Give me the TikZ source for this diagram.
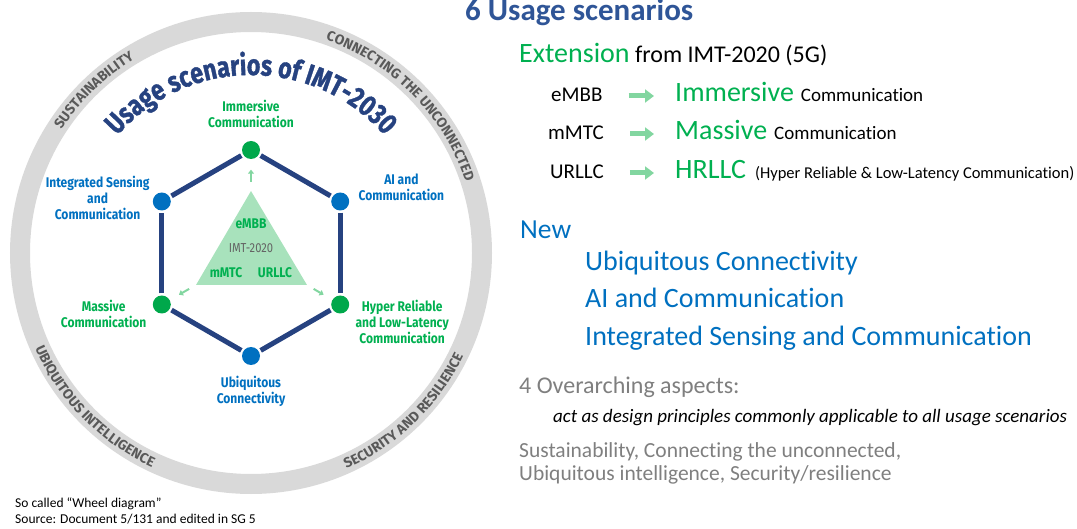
\documentclass[tikz,border=0pt]{standalone}
\usepackage{fontspec}
\setmainfont{Carlito}[Ligatures={NoCommon}]
\newfontfamily\wheelfont[FakeStretch=0.86]{Fira Sans}
\newfontfamily\arcfont[FakeStretch=0.8, FakeBold=1.2]{Fira Sans}
\newfontfamily\rimfont{Fira Sans}
\usetikzlibrary{positioning, calc, arrows.meta, decorations.text}

\definecolor{ringgray}{RGB}{217,217,217}
\definecolor{rimtext}{RGB}{89,89,89}
\definecolor{hexnavy}{RGB}{38,66,128}
\definecolor{dotgreen}{RGB}{0,168,75}
\definecolor{dotblue}{RGB}{0,112,192}
\definecolor{labgreen}{RGB}{0,176,80}
\definecolor{labblue}{RGB}{0,112,192}
\definecolor{trigreen}{RGB}{168,226,188}
\definecolor{tipgreen}{RGB}{130,214,160}
\definecolor{imtgray}{RGB}{100,100,100}
\definecolor{titleblue}{RGB}{47,85,151}
\definecolor{extgreen}{RGB}{0,176,80}
\definecolor{newblue}{RGB}{0,112,192}
\definecolor{aspgray}{RGB}{127,127,127}

\tikzset{
  ring/.style={draw=ringgray, line width=20pt},
  rimword/.style={decorate, decoration={text along path, text align=center,
      text color=rimtext, text={|\rimfont\bfseries\fontsize{14}{14}\selectfont|#1}}},
  arcword/.style={decorate, decoration={text along path, text align=center,
      text color=hexnavy, text={|\arcfont\bfseries\fontsize{29}{29}\selectfont|#1}}},
  dot/.style={circle, inner sep=0pt, minimum size=18pt},
  gdot/.style={dot, fill=dotgreen},
  bdot/.style={dot, fill=dotblue},
  hexline/.style={draw=hexnavy, line width=5pt, shorten <=2pt, shorten >=2pt},
  scen/.style={align=center, inner sep=0pt, font=\wheelfont\bfseries\fontsize{14}{16}\selectfont},
  gscen/.style={scen, text=labgreen},
  bscen/.style={scen, text=labblue},
  tritext/.style={anchor=base, inner sep=0pt, text=labgreen, font=\wheelfont\bfseries\fontsize{14}{14}\selectfont},
  tiparrow/.style={draw=tipgreen, line width=2pt, -{Triangle[length=4pt,width=6pt]}},
  fatarrow/.style={draw=tipgreen, line width=5pt, -{Triangle[length=9pt,width=13pt]}},
  rtext/.style={anchor=base west, inner sep=0pt},
}

\begin{document}
\begin{tikzpicture}[x=1pt, y=1pt]
\useasboundingbox (0,-529) rectangle (1077,0);

% the wheel
\coordinate (hub) at (251,-253);
\draw[ring] (hub) circle[radius=231];
\path[rimword={SUSTAINABILITY}] ($(hub)+(160:226)$) arc[start angle=160, end angle=108, radius=226];
\path[rimword={CONNECTING THE UNCONNECTED}] ($(hub)+(80:226)$) arc[start angle=80, end angle=9, radius=226];
\path[rimword={UBIQUITOUS INTELLIGENCE}] ($(hub)+(196:236)$) arc[start angle=196, end angle=253, radius=236];
\path[rimword={SECURITY AND RESILIENCE}] ($(hub)+(286:236)$) arc[start angle=286, end angle=342, radius=236];
\path[arcword={Usage scenarios of IMT-2030}] ($(hub)+(145:178)$) arc[start angle=145, end angle=35, radius=178];

% hexagon of scenarios
\node[gdot] (imm) at ($(hub)+(90:103)$) {};
\node[bdot] (ai) at ($(hub)+(30:103)$) {};
\node[gdot] (hrllc) at ($(hub)+(-30:103)$) {};
\node[bdot] (ubi) at ($(hub)+(-90:103)$) {};
\node[gdot] (mass) at ($(hub)+(210:103)$) {};
\node[bdot] (isac) at ($(hub)+(150:103)$) {};
\foreach \a/\b in {imm/ai, ai/hrllc, hrllc/ubi, ubi/mass, mass/isac, isac/imm}
  \draw[hexline] (\a) -- (\b);

\node[gscen, above=13pt of imm] (immlab) {Immersive\\Communication};
\node[bscen, left=3pt of isac, yshift=4pt] (isaclab) {Integrated Sensing\\and\\Communication};
\node[bscen, right=9pt of ai, yshift=14pt] (ailab) {AI and\\Communication};
\node[gscen, left=6pt of mass, yshift=-9pt] (masslab) {Massive\\Communication};
\node[gscen, right=6pt of hrllc, yshift=-17pt] (hrlab) {Hyper Reliable\\and Low-Latency\\Communication};
\node[bscen, below=11pt of ubi] (ubilab) {Ubiquitous\\Connectivity};

% IMT-2020 triangle
\coordinate (tapex) at (251,-191);
\coordinate (tleft) at (196,-285);
\coordinate (tright) at (307,-285);
\fill[trigreen] (tapex) -- (tleft) -- (tright) -- cycle;
\node[tritext] (embb) at (251,-229) {eMBB};
\node[tritext, text=imtgray, font=\wheelfont\fontsize{13}{13}\selectfont] (imt) at (251,-253) {IMT-2020};
\node[tritext] (mmtc) at (226,-278) {mMTC};
\node[tritext] (urllc) at (275,-278) {URLLC};
\draw[tiparrow] ($(tapex)!.22!(imm)$) -- ($(tapex)!.52!(imm)$);
\draw[tiparrow] ($(tleft)!.2!(mass)$) -- ($(tleft)!.5!(mass)$);
\draw[tiparrow] ($(tright)!.2!(hrllc)$) -- ($(tright)!.5!(hrllc)$);

% right column
\node[rtext, text=titleblue, font=\bfseries\fontsize{31}{36}\selectfont] (heading) at (465,-21) {6 Usage scenarios};
\node[rtext, font=\fontsize{24}{28}\selectfont] (ext) at (519,-63) {{\fontsize{28}{32}\selectfont\textcolor{extgreen}{Extension}} from IMT-2020 (5G)};

\node[rtext, font=\fontsize{21}{24}\selectfont] (embbr) at (551,-102) {eMBB};
\node[rtext, font=\fontsize{21}{24}\selectfont] (mmtcr) at (548,-140) {mMTC};
\node[rtext, font=\fontsize{21}{24}\selectfont] (urllcr) at (550,-179) {URLLC};
\node[rtext, font=\fontsize{19}{22}\selectfont] (immr) at (675,-102) {{\fontsize{28}{32}\selectfont\textcolor{extgreen}{Immersive}}\hspace{7pt}Communication};
\node[rtext, font=\fontsize{19}{22}\selectfont] (massr) at (675,-140) {{\fontsize{28}{32}\selectfont\textcolor{extgreen}{Massive}}\hspace{7pt}Communication};
\node[rtext, font=\fontsize{16.5}{20}\selectfont] (hrllcr) at (675,-179) {{\fontsize{28}{32}\selectfont\textcolor{extgreen}{HRLLC}}\hspace{9pt}(Hyper Reliable \& Low-Latency Communication)};
\foreach \l/\r in {embbr/immr, mmtcr/massr, urllcr/hrllcr}
  \draw[fatarrow, shorten <=26pt, shorten >=21pt] ([yshift=6pt]\l.base east) -- ([yshift=6pt]\r.base west);

\node[rtext, text=newblue, font=\fontsize{27.5}{30}\selectfont] (new) at (520,-239) {New};
\node[rtext, text=newblue, font=\fontsize{28}{30}\selectfont] (uc) at (585,-271) {Ubiquitous Connectivity};
\node[rtext, text=newblue, font=\fontsize{28}{30}\selectfont] (aic) at (585,-308) {AI and Communication};
\node[rtext, text=newblue, font=\fontsize{28}{30}\selectfont] (isc) at (585,-346) {Integrated Sensing and Communication};

\node[rtext, text=aspgray, font=\fontsize{24}{28}\selectfont] (asp) at (519,-394) {4 Overarching aspects:};
\node[rtext, font=\itshape\fontsize{19}{22}\selectfont] (design) at (553,-423) {act as design principles commonly applicable to all usage scenarios};
\node[rtext, text=aspgray, font=\fontsize{21.5}{24}\selectfont] (asp1) at (519,-457) {Sustainability, Connecting the unconnected,};
\node[rtext, text=aspgray, font=\fontsize{21.5}{24}\selectfont] (asp2) at (519,-480) {Ubiquitous intelligence, Security/resilience};

% notes
\node[rtext, font=\fontsize{13.5}{16}\selectfont] (note1) at (15,-507) {So called “Wheel diagram”};
\node[rtext, font=\fontsize{13.5}{16}\selectfont] (note2) at (15,-523) {Source: Document 5/131 and edited in SG 5};
\end{tikzpicture}
\end{document}
